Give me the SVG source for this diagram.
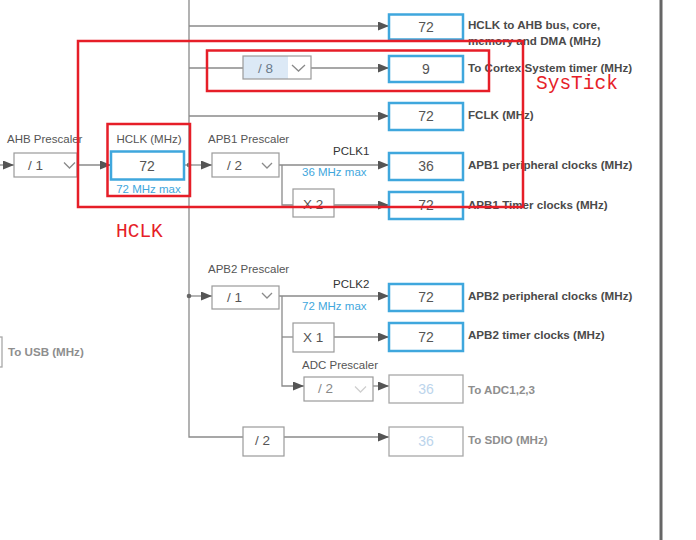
<svg xmlns="http://www.w3.org/2000/svg" width="696" height="540" viewBox="0 0 696 540">
<defs>
<marker id="ah" markerUnits="userSpaceOnUse" markerWidth="11" markerHeight="9" refX="11" refY="4.5" orient="auto"><path d="M0,0 L11,4.5 L0,9 z" fill="#555"/></marker>
<style>
.ln{stroke:#8a8a8a;stroke-width:1.3;fill:none}
.vb{fill:#fff;stroke:#3fa7dd;stroke-width:2.5}
.gb{fill:#fff;stroke:#a8a8a8;stroke-width:1.3}
.dd{fill:#fff;stroke:#9a9a9a;stroke-width:1.2}
.chev{fill:none;stroke:#8a8a8a;stroke-width:1.3}
.val{font-family:"Liberation Sans",Arial,sans-serif;font-size:14px;fill:#555;text-anchor:middle}
.gval{font-family:"Liberation Sans",Arial,sans-serif;font-size:14px;fill:#bcd5ec;text-anchor:middle}
.dt{font-family:"Liberation Sans",Arial,sans-serif;font-size:13.5px;fill:#555}
.lab{font-family:"Liberation Sans",Arial,sans-serif;font-size:11.5px;fill:#555}
.out{font-family:"Liberation Sans",Arial,sans-serif;font-size:11.6px;font-weight:bold;fill:#4a4a4a}
.gout{font-family:"Liberation Sans",Arial,sans-serif;font-size:11.6px;font-weight:bold;fill:#8e8e8e}
.blue{font-family:"Liberation Sans",Arial,sans-serif;font-size:11.5px;fill:#3fa7dd}
.red{fill:none;stroke:#e61e28;stroke-width:2.5}
.redt{font-family:"Liberation Mono","Courier New",monospace;font-size:19.5px;fill:#e61e28}
</style>
</defs>
<rect width="696" height="540" fill="#fff"/>
<line x1="661" y1="0" x2="661" y2="540" stroke="#666" stroke-width="3"/>

<g id="connectors">
<line class="ln" x1="0" y1="165" x2="14" y2="165" marker-end="url(#ah)"/>
<line class="ln" x1="77" y1="165" x2="111" y2="165" marker-end="url(#ah)"/>
<line class="ln" x1="184" y1="165" x2="212" y2="165" marker-end="url(#ah)"/>
<circle cx="189" cy="165" r="2.3" fill="#666"/>
<polyline class="ln" points="189,0 189,437 243,437"/>
<line class="ln" x1="189" y1="26" x2="389" y2="26" marker-end="url(#ah)"/>
<line class="ln" x1="189" y1="68" x2="243" y2="68"/>
<line class="ln" x1="311" y1="68" x2="389" y2="68" marker-end="url(#ah)"/>
<line class="ln" x1="189" y1="116" x2="389" y2="116" marker-end="url(#ah)"/>
<line class="ln" x1="279" y1="165" x2="389" y2="165" marker-end="url(#ah)"/>
<polyline class="ln" points="282,165 282,205 293,205"/>
<line class="ln" x1="334" y1="205" x2="389" y2="205" marker-end="url(#ah)"/>
<line class="ln" x1="189" y1="296" x2="212" y2="296" marker-end="url(#ah)"/>
<circle cx="189" cy="296" r="2.3" fill="#666"/>
<line class="ln" x1="279" y1="296" x2="389" y2="296" marker-end="url(#ah)"/>
<polyline class="ln" points="282,296 282,386 304,386" marker-end="url(#ah)"/>
<line class="ln" x1="282" y1="337" x2="293" y2="337"/>
<line class="ln" x1="334" y1="337" x2="389" y2="337" marker-end="url(#ah)"/>
<line class="ln" x1="373" y1="386" x2="389" y2="386" marker-end="url(#ah)"/>
<line class="ln" x1="284" y1="437" x2="389" y2="437" marker-end="url(#ah)"/>
</g>

<g id="ahb-prescaler">
<text class="lab" x="7" y="143">AHB Prescaler</text>
<rect class="dd" x="14" y="153" width="63" height="24"/>
<text class="dt" x="28" y="170">/ 1</text>
<polyline class="chev" points="64,162.5 69.5,168 75,162.5"/>
</g>

<g id="usb">
<rect class="gb" x="-70" y="337" width="72" height="30"/>
<text class="gout" x="8" y="356">To USB (MHz)</text>
</g>

<g id="hclk">
<text class="lab" x="149" y="143" text-anchor="middle">HCLK (MHz)</text>
<rect class="vb" x="111" y="151.5" width="73" height="28"/>
<text class="val" x="147" y="171">72</text>
<text class="blue" x="148.5" y="193" text-anchor="middle">72 MHz max</text>
</g>

<g id="ahb-out">
<rect class="vb" x="389" y="14.5" width="74" height="25"/>
<text class="val" x="426" y="32">72</text>
<text class="out" x="468" y="29">HCLK to AHB bus, core,</text>
<text class="out" x="468" y="45">memory and DMA (MHz)</text>
</g>

<g id="systick-div">
<rect x="243" y="56" width="45" height="23" fill="#dce9f6"/>
<rect class="dd" x="243" y="56" width="68" height="23" fill="none" style="fill:none"/>
<text class="dt" x="258" y="73" style="fill:#6a7a8a">/ 8</text>
<polyline class="chev" points="292,65 298.5,71 305,65"/>
</g>

<g id="cortex-out">
<rect class="vb" x="389" y="56" width="74" height="26"/>
<text class="val" x="426" y="74">9</text>
<text class="out" x="468" y="72">To Cortex System timer (MHz)</text>
</g>

<g id="fclk-out">
<rect class="vb" x="389" y="103" width="74" height="27"/>
<text class="val" x="426" y="121">72</text>
<text class="out" x="468" y="119">FCLK (MHz)</text>
</g>

<g id="apb1-prescaler">
<text class="lab" x="208" y="143">APB1 Prescaler</text>
<rect class="dd" x="212" y="153" width="67" height="24"/>
<text class="dt" x="227" y="170">/ 2</text>
<polyline class="chev" points="262,163 267,168 272,163"/>
<text class="lab" x="333" y="155" style="fill:#333">PCLK1</text>
<text class="blue" x="302" y="176">36 MHz max</text>
</g>

<g id="apb1-periph">
<rect class="vb" x="389" y="153" width="74" height="27"/>
<text class="val" x="426" y="171">36</text>
<text class="out" x="468" y="169">APB1 peripheral clocks (MHz)</text>
</g>

<g id="apb1-x2">
<rect class="dd" x="293" y="189" width="41" height="28"/>
<text class="dt" x="303" y="209">X 2</text>
</g>

<g id="apb1-timer">
<rect class="vb" x="389" y="192" width="74" height="27"/>
<text class="val" x="426" y="210">72</text>
<text class="out" x="468" y="209">APB1 Timer clocks (MHz)</text>
</g>

<g id="apb2-prescaler">
<text class="lab" x="208" y="273">APB2 Prescaler</text>
<rect class="dd" x="212" y="286" width="67" height="23"/>
<text class="dt" x="227" y="302">/ 1</text>
<polyline class="chev" points="262,293 267,298 272,293"/>
<text class="lab" x="333" y="288" style="fill:#333">PCLK2</text>
<text class="blue" x="302" y="310">72 MHz max</text>
</g>

<g id="apb2-periph">
<rect class="vb" x="389" y="284" width="74" height="27"/>
<text class="val" x="426" y="302">72</text>
<text class="out" x="468" y="300">APB2 peripheral clocks (MHz)</text>
</g>

<g id="apb2-x1">
<rect class="dd" x="293" y="323" width="41" height="29"/>
<text class="dt" x="303" y="342">X 1</text>
</g>

<g id="apb2-timer">
<rect class="vb" x="389" y="323" width="74" height="28"/>
<text class="val" x="426" y="342">72</text>
<text class="out" x="468" y="339">APB2 timer clocks (MHz)</text>
</g>

<g id="adc-prescaler">
<text class="lab" x="302" y="369">ADC Prescaler</text>
<rect class="dd" x="304" y="377" width="69" height="24"/>
<text class="dt" x="318" y="393" style="fill:#888">/ 2</text>
<polyline class="chev" points="355,386.5 360.5,392 366,386.5" style="stroke:#cfcfcf"/>
</g>

<g id="adc-out">
<rect class="gb" x="389" y="375" width="74" height="28"/>
<text class="gval" x="426" y="394">36</text>
<text class="gout" x="468" y="394">To ADC1,2,3</text>
</g>

<g id="sdio-div">
<rect class="dd" x="243" y="427" width="41" height="29"/>
<text class="dt" x="255" y="445">/ 2</text>
</g>

<g id="sdio-out">
<rect class="gb" x="389" y="427" width="74" height="29"/>
<text class="gval" x="426" y="446">36</text>
<text class="gout" x="468" y="444">To SDIO (MHz)</text>
</g>

<g id="annotations">
<rect class="red" x="78" y="41" width="445" height="166"/>
<rect class="red" x="207" y="50.5" width="282" height="40.5"/>
<rect class="red" x="107.5" y="124" width="82.5" height="72"/>
<text class="redt" x="536" y="89">SysTick</text>
<text class="redt" x="116" y="237">HCLK</text>
</g>
</svg>
